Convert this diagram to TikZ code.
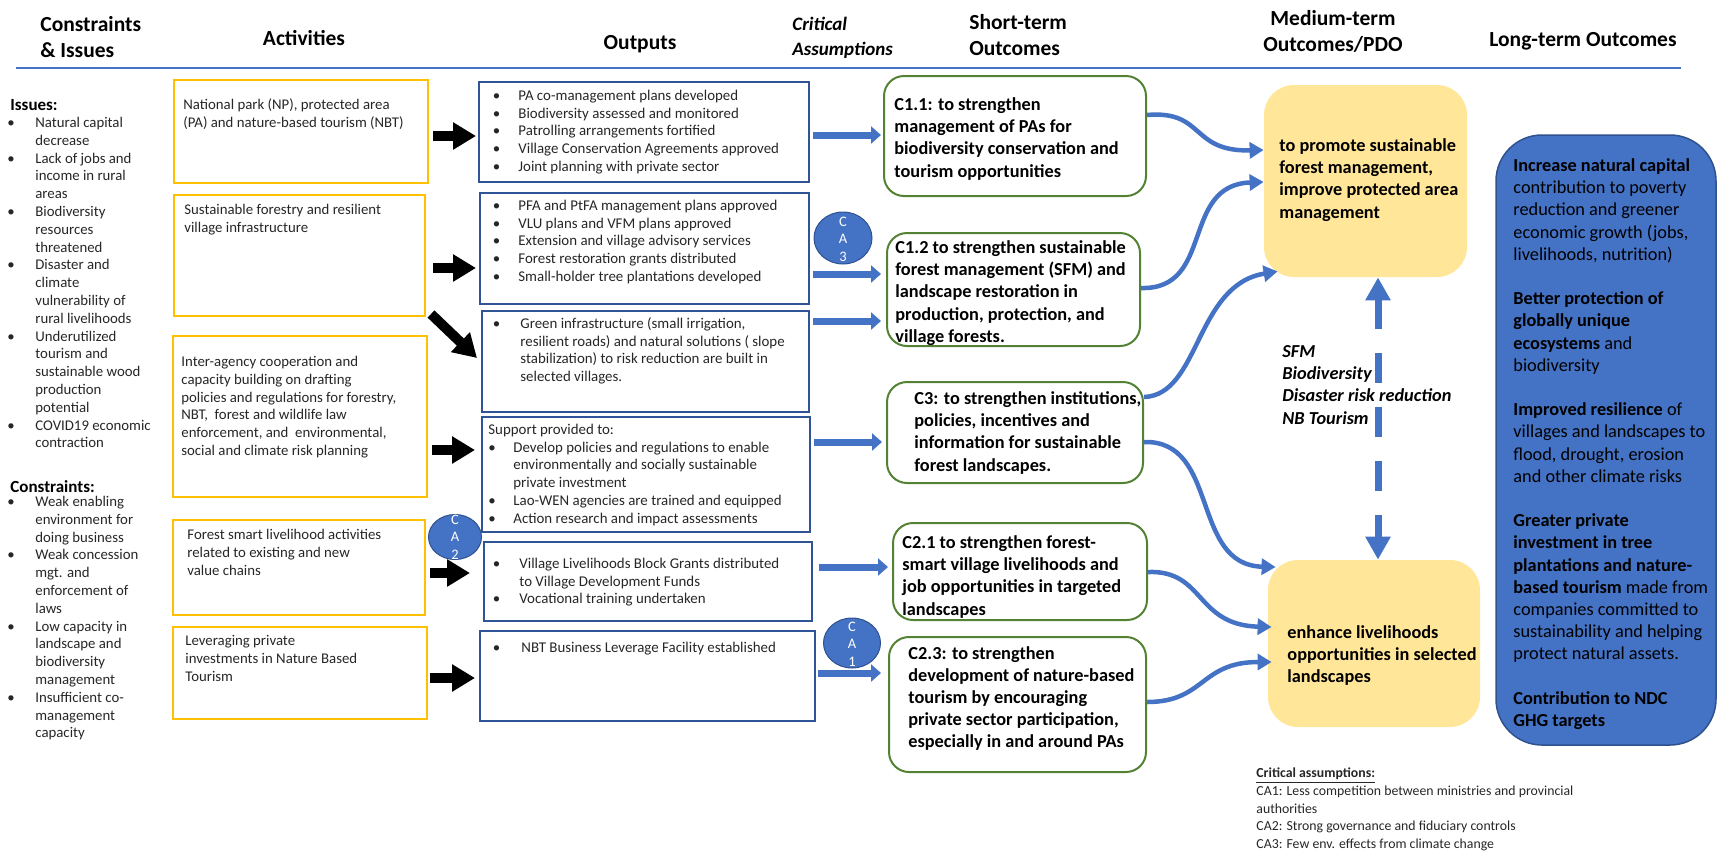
\documentclass[tikz,border=0pt]{standalone}
\usepackage{fontspec}
\setmainfont{Carlito}
\usetikzlibrary{arrows.meta,shapes.geometric,fit,calc}
\newdimen\px \px=0.5pt
\definecolor{orng}{HTML}{FFC000}
\definecolor{oblue}{HTML}{2F5597}
\definecolor{mblue}{HTML}{4472C4}
\definecolor{dblue}{HTML}{2F528F}
\definecolor{grn}{HTML}{548235}
\definecolor{ylw}{HTML}{FFE699}
\definecolor{txtc}{HTML}{262626}
\newcommand{\tl}[1]{\begin{tabular}[t]{@{}l@{}}#1\end{tabular}}
\newcommand{\tb}[1]{\begin{tabular}[t]{@{}l@{}l@{}}#1\end{tabular}}
\newcommand{\Bw}[1]{\makebox[#1\px][l]{\textbullet}}
\newcommand{\fA}{\fontsize{14.8\px}{17.8\px}\selectfont}
\newcommand{\fO}{\fontsize{14.9\px}{17.7\px}\selectfont}
\newcommand{\fN}{\fontsize{13.8\px}{17.7\px}\selectfont}
\newcommand{\fS}{\fontsize{18.3\px}{22.2\px}\selectfont\bfseries}
\newcommand{\fH}{\fontsize{21.5\px}{26\px}\selectfont\bfseries}
\newcommand{\fC}{\fontsize{14.5\px}{17.5\px}\selectfont}
\begin{document}
\begin{tikzpicture}[x=0.5pt,y=-0.5pt,
  act/.style={draw=orng, line width=1pt, inner sep=0},
  outb/.style={draw=oblue, line width=1pt, inner sep=0},
  st/.style={draw=grn, line width=1pt, rounded corners=10pt, inner sep=0, fill=white},
  pdo/.style={fill=ylw, rounded corners=15pt, inner sep=0},
  ltb/.style={fill=mblue, draw=dblue, line width=0.75pt, rounded corners=23pt, inner sep=0},
  ca/.style={ellipse, fill=mblue, draw=dblue, line width=0.5pt, inner sep=0},
  catext/.style={inner sep=0, text=white, font=\fC},
  txt/.style={anchor=base west, inner sep=0, text=txtc},
  hdr/.style={inner sep=0, text=black, font=\fH},
  blk/.style={draw=black, line width=5pt, -{Triangle[length=11.5pt,width=13pt]}},
  blu/.style={draw=mblue, line width=3.5pt, -{Triangle[length=5pt,width=8.5pt]}},
  crv/.style={draw=mblue, line width=2.25pt, -{Triangle[length=7pt,width=8pt]}},
  dsh/.style={draw=mblue, line width=3.5pt, dash pattern=on 15pt off 12pt,
    {Triangle[length=11.5pt,width=12pt]}-{Triangle[length=11.5pt,width=12pt]}}
]
\useasboundingbox (0,0) rectangle (1719,853);

% ---------- headers ----------
\node[hdr, anchor=base west] (h1) at (40,31) {\tl{Constraints\\\& Issues}};
\node[hdr, anchor=base] (h2) at (304,45) {Activities};
\node[hdr, anchor=base] (h3) at (640,49) {Outputs};
\node[hdr, anchor=base west, font=\fontsize{19\px}{25\px}\selectfont\bfseries\itshape] (h4) at (792,30) {\tl{Critical\\Assumptions}};
\node[hdr, anchor=base west] (h5) at (969,29) {\tl{Short-term\\Outcomes}};
\node[hdr, anchor=base] (h6) at (1333,25) {\begin{tabular}[t]{@{}c@{}}Medium-term\\Outcomes/PDO\end{tabular}};
\node[hdr, anchor=base] (h7) at (1583,46) {Long-term Outcomes};
\draw[mblue, line width=0.75pt] (16,68) -- (1681,68);

% ---------- constraints & issues ----------
\node[txt, text=black, font=\fontsize{17\px}{20\px}\selectfont\bfseries] (iss) at (10,110) {Issues:};
\node[txt, font=\fA] (issl) at (7,127.5) {\tb{%
\Bw{28}&Natural capital\\ &decrease\\
\Bw{28}&Lack of jobs and\\ &income in rural\\ &areas\\
\Bw{28}&Biodiversity\\ &resources\\ &threatened\\
\Bw{28}&Disaster and\\ &climate\\ &vulnerability of\\ &rural livelihoods\\
\Bw{28}&Underutilized\\ &tourism and\\ &sustainable wood\\ &production\\ &potential\\
\Bw{28}&COVID19 economic\\ &contraction}};
\node[txt, text=black, font=\fontsize{17\px}{20\px}\selectfont\bfseries] (con) at (10,492) {Constraints:};
\node[txt, font=\fA] (conl) at (7,506.5) {\tb{%
\Bw{28}&Weak enabling\\ &environment for\\ &doing business\\
\Bw{28}&Weak concession\\ &mgt. and\\ &enforcement of\\ &laws\\
\Bw{28}&Low capacity in\\ &landscape and\\ &biodiversity\\ &management\\
\Bw{28}&Insufficient co-\\ &management\\ &capacity}};

% ---------- activities ----------
\node[act, fit={(174,80) (428,183)}] (a1) {};
\node[act, fit={(174,195) (425,316)}] (a2) {};
\node[act, fit={(173,336) (427,497)}] (a3) {};
\node[act, fit={(173,520) (425,615)}] (a4) {};
\node[act, fit={(173,627) (427,719)}] (a5) {};
\node[txt, font=\fA] (a1t) at (183,109.5) {\tl{National park (NP), protected area\\(PA) and nature-based tourism (NBT)}};
\node[txt, font=\fA] (a2t) at (184,214.5) {\tl{Sustainable forestry and resilient\\village infrastructure}};
\node[txt, font=\fA] (a3t) at (181,366.5) {\tl{Inter-agency cooperation and\\capacity building on drafting\\policies and regulations for forestry,\\NBT,\ \ forest and wildlife law\\enforcement, and\ \ environmental,\\social and climate risk planning}};
\node[txt, font=\fA] (a4t) at (187,539.5) {\tl{Forest smart livelihood activities\\related to existing and new\\value chains}};
\node[txt, font=\fA] (a5t) at (185,645.5) {\tl{Leveraging private\\investments in Nature Based\\Tourism}};

% ---------- outputs ----------
\node[outb, fit={(479,82) (809,182)}] (o1) {};
\node[outb, fit={(480,193) (809,304)}] (o2) {};
\node[outb, fit={(482,311) (809,412)}] (o3) {};
\node[outb, fit={(482,417) (810,532)}] (o4) {};
\node[outb, fit={(484,542) (812,621)}] (o5) {};
\node[outb, fit={(480,631) (815,721)}] (o6) {};
\node[txt, font=\fO] (o1t) at (492.5,100.5) {\tb{%
\Bw{25.5}&PA co-management plans developed\\
\Bw{25.5}&Biodiversity assessed and monitored\\
\Bw{25.5}&Patrolling arrangements fortified\\
\Bw{25.5}&Village Conservation Agreements approved\\
\Bw{25.5}&Joint planning with private sector}};
\node[txt, font=\fO] (o2t) at (492.5,210.5) {\tb{%
\Bw{25.5}&PFA and PtFA management plans approved\\
\Bw{25.5}&VLU plans and VFM plans approved\\
\Bw{25.5}&Extension and village advisory services\\
\Bw{25.5}&Forest restoration grants distributed\\
\Bw{25.5}&Small-holder tree plantations developed}};
\node[txt, font=\fO] (o3t) at (492.5,328.5) {\tb{%
\Bw{27.5}&Green infrastructure (small irrigation,\\
&resilient roads) and natural solutions ( slope\\
&stabilization) to risk reduction are built in\\
&selected villages.}};
\node[txt, font=\fO] (o4t) at (488,434.5) {\tb{%
\multicolumn{2}{@{}l@{}}{Support provided to:}\\
\Bw{25}&Develop policies and regulations to enable\\
&environmentally and socially sustainable\\
&private investment\\
\Bw{25}&Lao-WEN agencies are trained and equipped\\
\Bw{25}&Action research and impact assessments}};
\node[txt, font=\fO] (o5t) at (492.5,568.5) {\tb{%
\Bw{26.5}&Village Livelihoods Block Grants distributed\\
&to Village Development Funds\\
\Bw{26.5}&Vocational training undertaken}};
\node[txt, font=\fO] (o6t) at (492.5,652.5) {\tb{%
\Bw{28.5}&NBT Business Leverage Facility established}};

% ---------- short-term outcomes ----------
\node[st, fit={(884,76) (1146,196)}] (c11) {};
\node[st, fit={(887,233) (1140,346)}] (c12) {};
\node[st, fit={(887,382) (1143,483)}] (c3) {};
\node[st, fit={(893,523) (1147,620)}] (c21) {};
\node[st, fit={(889,637) (1146,772)}] (c23) {};
\node[txt, text=black, font=\fS] (c11t) at (894,110.5) {\tl{C1.1: to strengthen\\management of PAs for\\biodiversity conservation and\\tourism opportunities}};
\node[txt, text=black, font=\fS] (c12t) at (895,253.5) {\tl{C1.2 to strengthen sustainable\\forest management (SFM) and\\landscape restoration in\\production, protection, and\\village forests.}};
\node[txt, text=black, font=\fS] (c3t) at (914,404.5) {\tl{C3: to strengthen institutions,\\policies, incentives and\\information for sustainable\\forest landscapes.}};
\node[txt, text=black, font=\fS] (c21t) at (902,548.5) {\tl{C2.1 to strengthen forest-\\smart village livelihoods and\\job opportunities in targeted\\landscapes}};
\node[txt, text=black, font=\fS] (c23t) at (908,659) {\tl{C2.3: to strengthen\\development of nature-based\\tourism by encouraging\\private sector participation,\\especially in and around PAs}};

% ---------- medium-term ----------
\node[pdo, fit={(1264,85) (1467,277)}] (p1) {};
\node[pdo, fit={(1268,560) (1480,727)}] (p2) {};
\node[txt, text=black, font=\fS] (p1t) at (1279,151.5) {\tl{to promote sustainable\\forest management,\\improve protected area\\management}};
\node[txt, text=black, font=\fS] (p2t) at (1287,638.5) {\tl{enhance livelihoods\\opportunities in selected\\landscapes}};
\node[txt, text=black, font=\fS\itshape] (sfm) at (1282,357.5) {\tl{SFM\\Biodiversity\\Disaster risk reduction\\NB Tourism}};

% ---------- long-term ----------
\node[ltb, fit={(1496,135) (1716,745)}] (lt) {};
\node[txt, text=black, font=\fontsize{18.3\px}{22.2\px}\selectfont] (ltt) at (1513,171.5) {\tl{%
\textbf{Increase natural capital}\\contribution to poverty\\reduction and greener\\economic growth (jobs,\\livelihoods, nutrition)\\ \\
\textbf{Better protection of}\\\textbf{globally unique}\\\textbf{ecosystems} and\\biodiversity\\ \\
\textbf{Improved resilience} of\\villages and landscapes to\\flood, drought, erosion\\and other climate risks\\ \\
\textbf{Greater private}\\\textbf{investment in tree}\\\textbf{plantations and nature-}\\\textbf{based tourism} made from\\companies committed to\\sustainability and helping\\protect natural assets.\\ \\
\textbf{Contribution to NDC}\\\textbf{GHG targets}}};

% ---------- footnote ----------
\node[txt, font=\fN] (fn) at (1256,777) {\tl{%
\underline{\textbf{Critical assumptions:}}\\
CA1: Less competition between ministries and provincial\\
authorities\\
CA2: Strong governance and fiduciary controls\\
CA3: Few env. effects from climate change}};

% ---------- black arrows ----------
\draw[blk, shorten <=2pt, shorten >=1pt] (a1.east |- 0,136) -- (o1.west |- 0,136);
\draw[blk, shorten <=3.5pt, shorten >=1.5pt] (a2.east |- 0,268) -- (o2.west |- 0,268);
\draw[blk] ($(a2.south east)+(5,-3)$) -- ($(o3.west |- 0,358)+(-4,0)$);
\draw[blk, shorten <=2pt, shorten >=3pt] (a3.east |- 0,450) -- (o4.west |- 0,450);
\draw[blk, shorten <=2pt, shorten >=6.5pt] (a4.east |- 0,573) -- (o5.west |- 0,573);
\draw[blk, shorten <=1pt, shorten >=2pt] (a5.east |- 0,678) -- (o6.west |- 0,678);

% ---------- blue block arrows ----------
\draw[blu, shorten <=1.5pt, shorten >=1pt] (o1.east |- 0,135) -- (c11.west |- 0,135);
\draw[blu, shorten <=1.5pt, shorten >=2.5pt] (o2.east |- 0,274) -- (c12.west |- 0,274);
\draw[blu, shorten <=1.5pt, shorten >=2.5pt] (o3.east |- 0,321) -- (c12.west |- 0,321);
\draw[blu, shorten <=1.5pt, shorten >=2pt] (o4.east |- 0,442) -- (c3.west |- 0,442);
\draw[blu, shorten <=3pt, shorten >=2pt] (o5.east |- 0,567) -- (c21.west |- 0,567);
\draw[blu, shorten <=1pt, shorten >=3.5pt] (o6.east |- 0,673) -- (c23.west |- 0,673);

% ---------- curved arrows ----------
\draw[crv] (c11.east |- 0,115) .. controls (1205,110) and (1190,152) .. (p1.west |- 0,150);
\draw[crv] (c12.east |- 0,288) .. controls (1215,290) and (1180,185) .. (p1.west |- 0,182);
\draw[crv] (c3.east |- 0,397) .. controls (1200,395) and (1195,285) .. ($(p1.south west)+(14,-6)$);
\draw[crv] (c3.east |- 0,442) .. controls (1220,440) and (1190,565) .. ($(p2.west |- 0,567)+(8,0)$);
\draw[crv] (c21.east |- 0,572) .. controls (1205,570) and (1195,625) .. ($(p2.west |- 0,627)+(4,0)$);
\draw[crv] (c23.east |- 0,702) .. controls (1205,702) and (1200,662) .. ($(p2.west |- 0,662)+(4,0)$);

% ---------- dashed double arrow ----------
\draw[dsh] ([xshift=6.25pt]p1.south) -- ([xshift=2pt]p2.north);

% ---------- critical assumption markers ----------
\node[ca, minimum width=29pt, minimum height=26pt] (ca3) at (843,238) {};
\node[catext] (ca3t) at (843,240) {\begin{tabular}{@{}c@{}}C\\A\\3\end{tabular}};
\node[ca, minimum width=26.5pt, minimum height=22.5pt] (ca2) at (455,537) {};
\node[catext] (ca2t) at (455,538) {\begin{tabular}{@{}c@{}}C\\A\\2\end{tabular}};
\node[ca, minimum width=28.5pt, minimum height=25pt] (ca1) at (852,643) {};
\node[catext] (ca1t) at (852,645) {\begin{tabular}{@{}c@{}}C\\A\\1\end{tabular}};
\end{tikzpicture}
\end{document}
